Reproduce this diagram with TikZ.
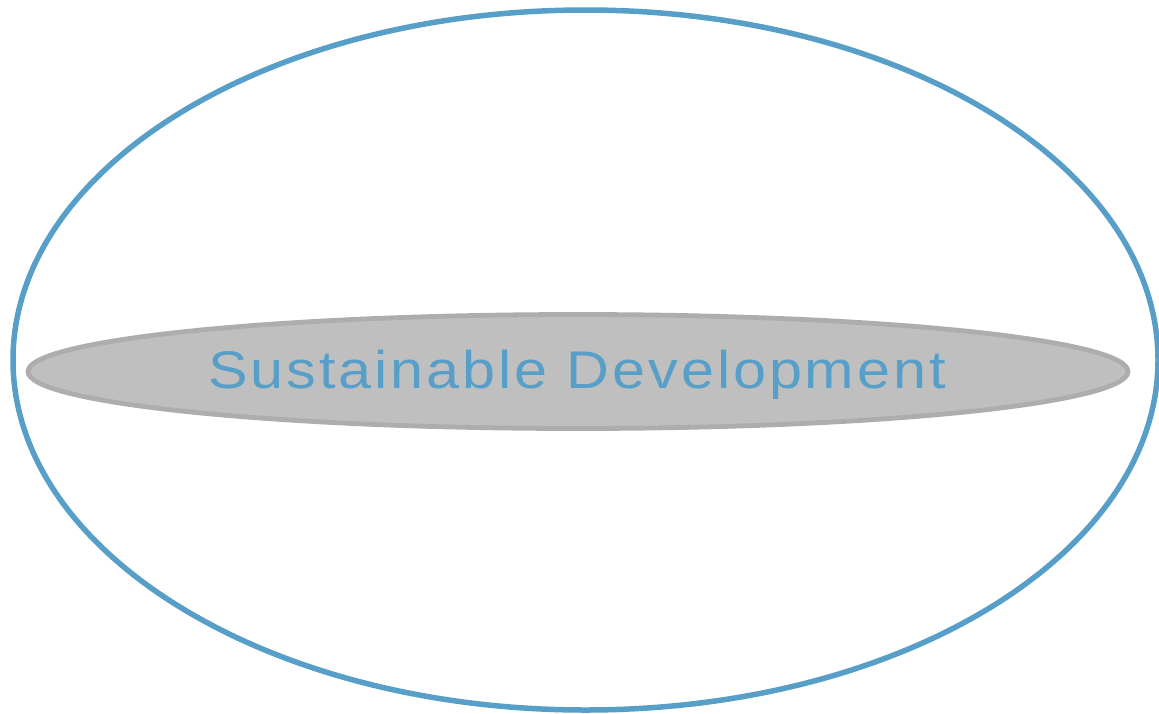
\documentclass[tikz,border=0pt]{standalone}
\usepackage{fontspec}
\setmainfont{Liberation Sans}
\newfontfamily\labelfont[LetterSpace=5.5,FakeStretch=1.12]{Liberation Sans}
\usetikzlibrary{shapes.geometric}
\definecolor{outerblue}{HTML}{579FC8}
\definecolor{innerfill}{HTML}{BFBFBF}
\definecolor{innerdraw}{HTML}{ADADAD}
\tikzset{
  outer/.style={draw=outerblue, line width=5.5pt},
  inner/.style={draw=innerdraw, fill=innerfill, line width=4.8pt},
  label/.style={text=outerblue, font=\labelfont\fontsize{53}{60}\selectfont, inner sep=0pt, anchor=base}
}
\begin{document}
\begin{tikzpicture}[x=1pt,y=-1pt]
\useasboundingbox (0,0) rectangle (1159,713);
\draw[outer] (585.5,360) ellipse [x radius=572.5, y radius=350];
\draw[inner] (578,371.5) ellipse [x radius=550, y radius=57];
\node[label] (t) at (577,388.5) {Sustainable Development};
\end{tikzpicture}
\end{document}
